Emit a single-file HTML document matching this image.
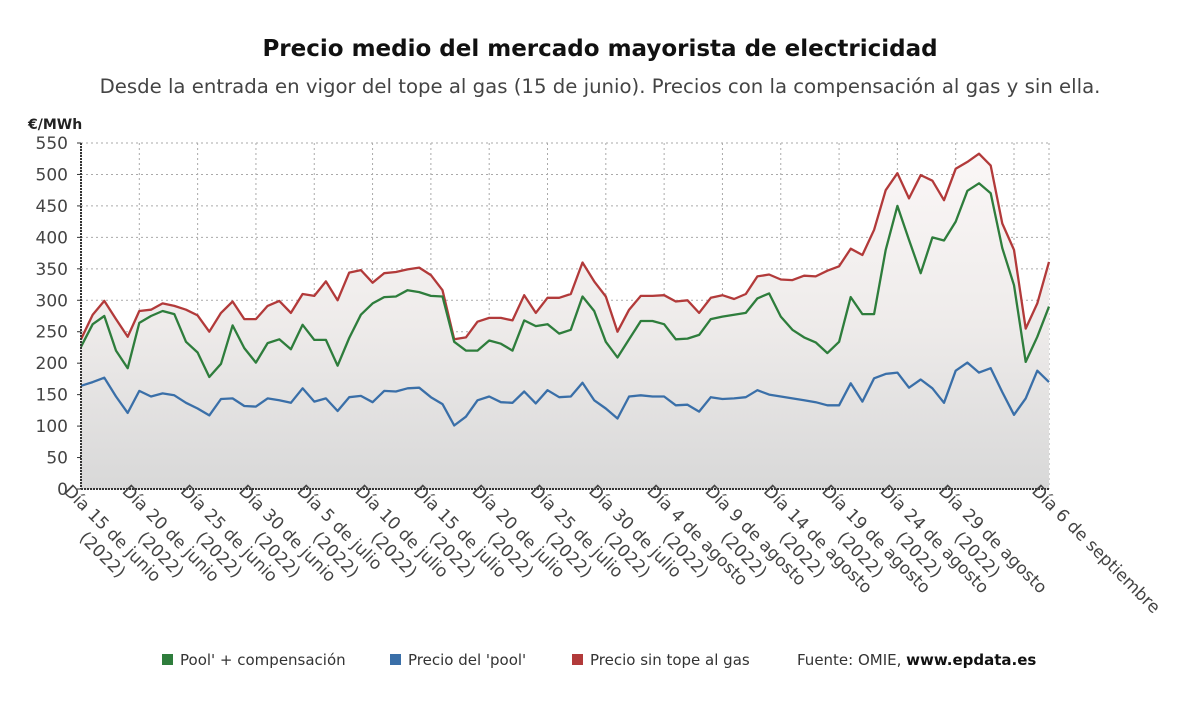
<!DOCTYPE html>
<html><head><meta charset="utf-8"><style>
body{margin:0;background:#fff;font-family:"Liberation Sans","DejaVu Sans",sans-serif;}
svg text{font-family:"DejaVu Sans","Liberation Sans",sans-serif;}
</style></head><body>
<svg id="c" width="1200" height="705" viewBox="0 0 1200 705" xmlns="http://www.w3.org/2000/svg">
<defs><linearGradient id="g" gradientUnits="userSpaceOnUse" x1="0" y1="143" x2="0" y2="489"><stop offset="0" stop-color="#fbf7f7"/><stop offset="0.5" stop-color="#efeceb"/><stop offset="1" stop-color="#d8d8d8"/></linearGradient></defs>
<text x="600" y="56" text-anchor="middle" font-size="23" font-weight="bold" fill="#111">Precio medio del mercado mayorista de electricidad</text>
<text x="600" y="93" text-anchor="middle" font-size="19.7" fill="#444">Desde la entrada en vigor del tope al gas (15 de junio). Precios con la compensación al gas y sin ella.</text>
<text x="28" y="129" font-size="14" font-weight="bold" fill="#222">€/MWh</text>
<g id="grid"></g><g id="areas"></g><g id="lines"></g><g id="axes"></g>
<g font-size="15" fill="#333">
<rect x="162" y="654" width="11" height="11" fill="#2e7d3c"/><text x="180" y="665">Pool' + compensación</text>
<rect x="390" y="654" width="11" height="11" fill="#3a6fa8"/><text x="408" y="665">Precio del 'pool'</text>
<rect x="572" y="654" width="11" height="11" fill="#b23a3a"/><text x="590" y="665">Precio sin tope al gas</text>
<text x="797" y="665">Fuente: OMIE, <tspan font-weight="bold" fill="#111">www.epdata.es</tspan></text>
</g>
</svg>
<script>
const red=[238,277,299,270,242,283,285,295,291,285,276,250,280,298,270,270,291,299,280,310,307,330,300,344,348,328,343,345,349,352,340,316,238,241,266,272,272,268,308,280,304,304,310,360,330,306,250,285,307,307,308,298,300,280,304,308,302,310,338,341,333,332,339,338,347,354,382,372,412,475,502,462,499,490,459,509,520,533,514,422,380,255,295,361];
const green=[226,262,275,220,192,264,275,283,278,234,217,178,199,260,224,201,232,238,222,261,237,237,196,240,277,295,305,306,316,313,307,306,234,220,220,236,231,220,268,259,262,247,253,306,283,234,209,238,267,267,262,238,239,245,270,274,277,280,303,311,274,253,241,233,216,234,305,278,278,380,450,396,343,400,395,425,474,486,470,383,324,202,242,290];
const blue=[164,170,177,147,121,156,147,152,149,137,128,117,143,144,132,131,144,141,137,160,139,144,124,146,148,138,156,155,160,161,146,135,101,115,141,147,138,137,155,136,157,146,147,169,141,128,112,147,149,147,147,133,134,123,146,143,144,146,157,150,147,144,141,138,133,133,168,139,176,183,185,161,174,160,137,188,201,185,192,154,118,144,188,170];
const yTicks=[0,50,100,150,200,250,300,350,400,450,500,550];
const xLabels=["Día 15 de junio","Día 20 de junio","Día 25 de junio","Día 30 de junio","Día 5 de julio","Día 10 de julio","Día 15 de julio","Día 20 de julio","Día 25 de julio","Día 30 de julio","Día 4 de agosto","Día 9 de agosto","Día 14 de agosto","Día 19 de agosto","Día 24 de agosto","Día 29 de agosto"];
const lastLabel="Día 6 de septiembre";
const X0=81,X1=1049,Y0=489,Y1=143,N=red.length;
const xs=i=>X0+(X1-X0)*i/(N-1);
const ys=v=>Y0-(Y0-Y1)*v/550;
const NS="http://www.w3.org/2000/svg";
function mk(t,p,a){const e=document.createElementNS(NS,t);for(const k in a)e.setAttribute(k,a[k]);p.appendChild(e);return e;}
const grid=document.getElementById('grid'),axes=document.getElementById('axes'),areas=document.getElementById('areas'),lines=document.getElementById('lines');
yTicks.forEach(v=>{
 const l=mk('line',grid,{x1:X0,x2:X1,y1:ys(v),y2:ys(v),stroke:'#aaa','stroke-dasharray':'2,3'});
 
 
 const t=mk('text',axes,{x:68,y:ys(v)+6,'text-anchor':'end','font-size':17,fill:'#444'});
 t.textContent=v;
 
 
 mk('line',axes,{x1:X0-4,x2:X0,y1:ys(v),y2:ys(v),stroke:'#333'});
});
for(let k=0;k<=16;k++){
 const i=k*5;const x=xs(i);
 const l=mk('line',grid,{x1:x,x2:x,y1:Y1,y2:Y0,stroke:'#aaa','stroke-dasharray':'2,3'});
 
 
}
mk('line',grid,{x1:X1,x2:X1,y1:Y1,y2:Y0,stroke:'#aaa','stroke-dasharray':'2,3'});
const pts=a=>a.map((v,i)=>xs(i).toFixed(1)+','+ys(v).toFixed(1)).join(' ');
const area=mk('polygon',areas,{points:X0+','+Y0+' '+pts(red)+' '+X1+','+Y0,fill:'url(#g)'});


[[red,'#b23a3a','series-sin-tope'],[green,'#2e7d3c','series-pool-compensacion'],[blue,'#3a6fa8','series-pool']].forEach(s=>{
 const p=mk('polyline',lines,{points:pts(s[0]),fill:'none',stroke:s[1],'stroke-width':2.3,'stroke-linejoin':'round'});
 
 
});
mk('line',axes,{x1:X0,x2:X0,y1:Y1,y2:Y0,stroke:'#333','stroke-width':2,'stroke-dasharray':'2,1'});
mk('line',axes,{x1:X0,x2:X1,y1:Y0,y2:Y0,stroke:'#333','stroke-width':2,'stroke-dasharray':'2,1'});
xLabels.forEach((s,k)=>{
 const x=xs(k*5);
 const t=mk('text',axes,{transform:`translate(${x-18},${Y0+3}) rotate(45)`,'font-size':17,fill:'#444'});
 
 
 mk('tspan',t,{x:0,y:0}).textContent=s;
 mk('tspan',t,{x:44,dy:22}).textContent='(2022)';
});
const t=mk('text',axes,{transform:`translate(${X1-18},${Y0+3}) rotate(45)`,'font-size':17,fill:'#444'});
t.textContent=lastLabel;


</script>
</body></html>
